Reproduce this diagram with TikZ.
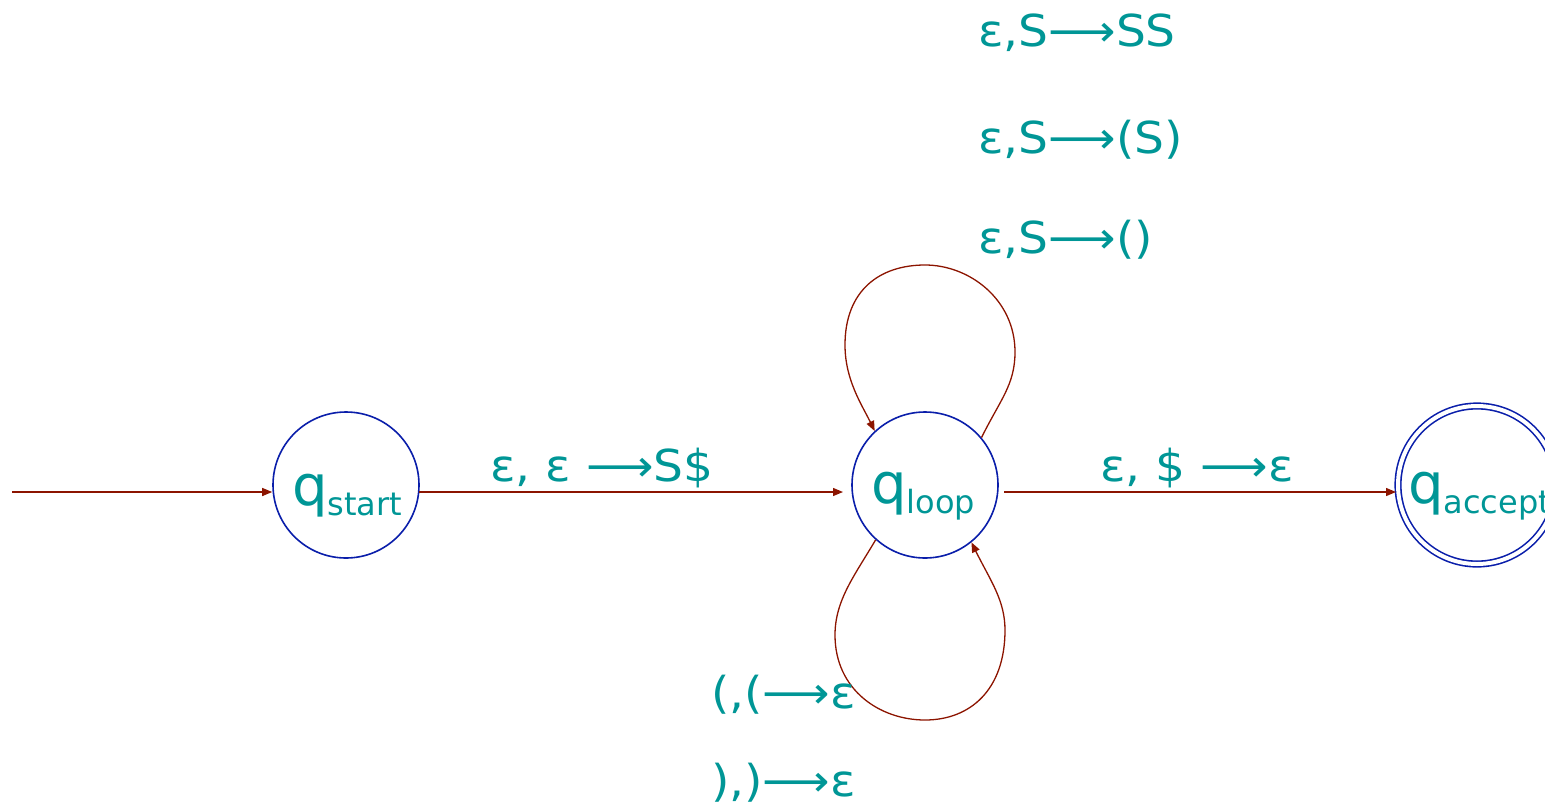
\documentclass[tikz,border=0pt]{standalone}
\usepackage{fontspec}
\setmainfont{DejaVu Sans}
\usetikzlibrary{arrows.meta}
\definecolor{teal1}{RGB}{0,150,150}
\definecolor{cblue}{RGB}{10,30,170}
\definecolor{ared}{RGB}{140,20,0}
\tikzset{
  state/.style={circle,draw=cblue,line width=1.6pt,minimum size=146pt,inner sep=0pt},
  accst/.style={circle,draw=cblue,line width=1.6pt,double=white,double distance=4pt,minimum size=158pt,inner sep=0pt},
  lbl/.style={text=teal1,font=\fontsize{44}{48}\selectfont,inner sep=0pt},
  qlbl/.style={text=teal1,inner sep=0pt},
  edge/.style={draw=ared,line width=1.3pt,-{Triangle[length=10pt,width=8pt]}},
}
\newcommand{\qsub}[1]{{\fontsize{56}{60}\selectfont q}{\fontsize{32}{36}\selectfont\raisebox{-10pt}{#1}}}
\newcommand{\widetxt}[1]{\scalebox{1.07}[1]{#1}}
\begin{document}
\begin{tikzpicture}[x=1pt,y=-1pt]
\useasboundingbox (0,0) rectangle (1545,809);
\node[state] (qs) at (346,485) {};
\node[state] (ql) at (925,485) {};
\node[accst] (qa) at (1477,485) {};
\node[qlbl,anchor=west] (ts) at (292,496) {\qsub{start}};
\node[qlbl,anchor=west] (tl) at (871,496) {\qsub{loop}};
\node[qlbl,anchor=west] (ta) at (1408,496) {\qsub{accept}};
\coordinate (in) at (12,492);
\coordinate (s1) at (419,492);
\coordinate (l0) at (843,492);
\coordinate (l1) at (1004,492);
\coordinate (a0) at (1396,492);
\draw[edge] (in) -- (qs.west |- in);
\draw[edge] (s1) -- (l0);
\draw[edge] (l1) -- (a0);
\draw[edge] (ql.40) .. controls (1000,400) and (1015,385) .. (1015,352)
  .. controls (1015,300) and (970,265) .. (925,265)
  .. controls (880,265) and (845,290) .. (845,345)
  .. controls (845,380) and (862,405) .. (ql.133);
\draw[edge] (ql.228) .. controls (855,575) and (835,600) .. (835,635)
  .. controls (835,690) and (880,720) .. (925,720)
  .. controls (970,720) and (1005,690) .. (1005,630)
  .. controls (1005,600) and (990,580) .. (ql.309);
\node[lbl,anchor=west] (e1) at (490,468) {\widetxt{ε, ε ⟶S\$}};
\node[lbl,anchor=west] (e2) at (1100,468) {\widetxt{ε, \$ ⟶ε}};
\node[lbl,anchor=west] (t1) at (978,33) {\widetxt{ε,S⟶SS}};
\node[lbl,anchor=west] (t2) at (978,140) {\widetxt{ε,S⟶(S)}};
\node[lbl,anchor=west] (t3) at (978,240) {\widetxt{ε,S⟶()}};
\node[lbl,anchor=west] (b1) at (711,695) {\widetxt{(,(⟶ε}};
\node[lbl,anchor=west] (b2) at (711,783) {\widetxt{),)⟶ε}};
\end{tikzpicture}
\end{document}
